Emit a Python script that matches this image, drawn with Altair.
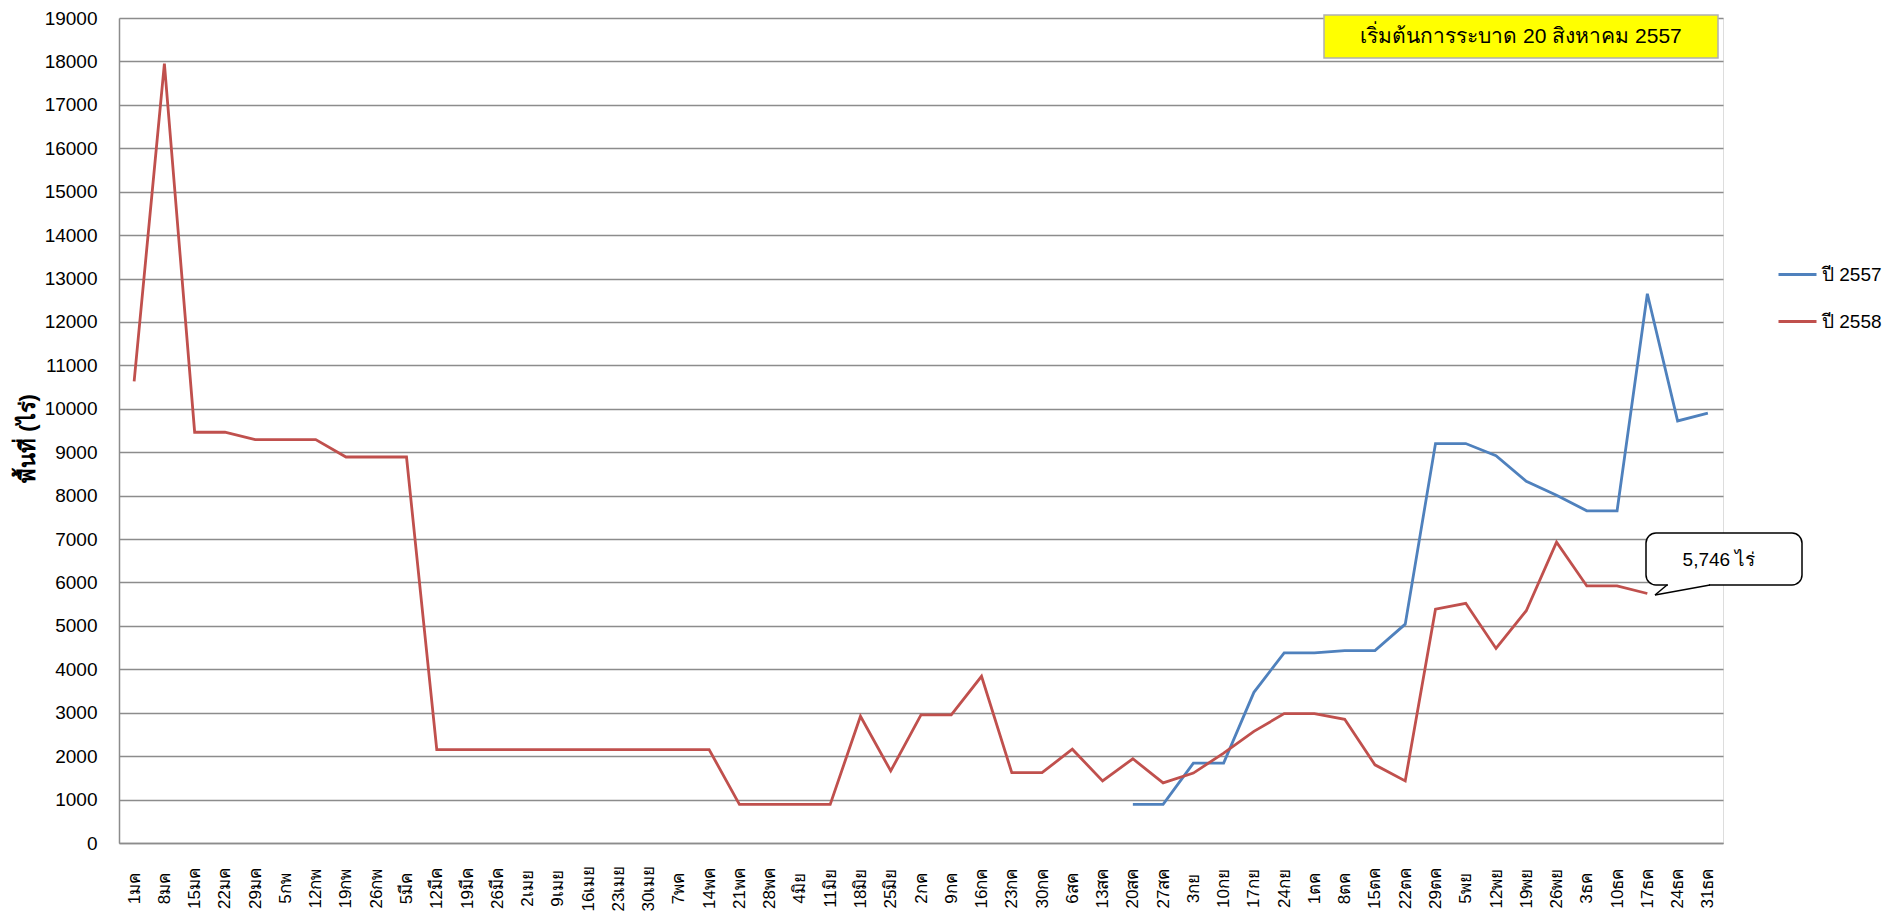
import altair as alt
import pandas as pd

categories = ["1มค", "8มค", "15มค", "22มค", "29มค", "5กพ", "12กพ", "19กพ", "26กพ", "5มีค",
              "12มีค", "19มีค", "26มีค", "2เมย", "9เมย", "16เมย", "23เมย", "30เมย", "7พค", "14พค",
              "21พค", "28พค", "4มิย", "11มิย", "18มิย", "25มิย", "2กค", "9กค", "16กค", "23กค",
              "30กค", "6สค", "13สค", "20สค", "27สค", "3กย", "10กย", "17กย", "24กย", "1ตค",
              "8ตค", "15ตค", "22ตค", "29ตค", "5พย", "12พย", "19พย", "26พย", "3ธค", "10ธค",
              "17ธค", "24ธค", "31ธค"]

series_names = ["ปี 2557", "ปี 2558"]

values_2557 = [None] * 33 + [890, 890, 1840, 1840, 3470, 4380, 4380, 4430, 4430, 5040,
                             9200, 9200, 8920, 8330, 8010, 7650, 7650, 12650, 9720, 9900]

values_2558 = [10630, 17950, 9460, 9460, 9290, 9290, 9290, 8890, 8890, 8890,
               2150, 2150, 2150, 2150, 2150, 2150, 2150, 2150, 2150, 2150,
               890, 890, 890, 890, 2920, 1660, 2950, 2950, 3840, 1620,
               1620, 2160, 1430, 1940, 1385, 1610, 2070, 2570, 2980, 2980,
               2850, 1800, 1430, 5385, 5520, 4480, 5350, 6930, 5920, 5920,
               5746, None, None]

y_ticks = list(range(0, 19001, 1000))

banner_text = "เริ่มต้นการระบาด 20 สิงหาคม 2557"
callout_text = "5,746 ไร่"
y_title = "พื้นที่ (ไร่)"

colors = ["#4F81BD", "#C0504D"]

rows = []
for name, vals in zip(series_names, [values_2557, values_2558]):
    for c, v in zip(categories, vals):
        if v is not None:
            rows.append({"week": c, "series": name, "area": v})
df = pd.DataFrame(rows)

FONT = "Liberation Sans Narrow, Liberation Sans, Tahoma, sans-serif"
W, H = 1604, 825

lines = alt.Chart(df).mark_line(strokeWidth=2.8, strokeJoin="miter").encode(
    x=alt.X("week:N", sort=categories,
            scale=alt.Scale(type="point", padding=0.5, domain=categories),
            axis=alt.Axis(title=None, grid=False, ticks=False, labelAngle=270,
                          labelAlign="center", labelBaseline="middle",
                          labelPadding=45, labelFontSize=17, labelFont=FONT,
                          labelColor="#000000", domainColor="#8c8c8c",
                          domainWidth=1.5, labelOverlap=False)),
    y=alt.Y("area:Q",
            scale=alt.Scale(domain=[0, 19000], nice=False),
            axis=alt.Axis(values=y_ticks, title=y_title, format="d",
                          ticks=False, labelPadding=22, labelFontSize=19,
                          labelFont=FONT, labelColor="#000000",
                          gridColor="#8c8c8c", gridWidth=1.5,
                          domainColor="#8c8c8c", domainWidth=1.5,
                          titleFont=FONT, titleFontSize=22, titleFontWeight="bold",
                          titleColor="#000000", titleX=-92, titleY=420,
                          titleAngle=270, titleAlign="center", titleBaseline="middle")),
    color=alt.Color("series:N",
                    scale=alt.Scale(domain=series_names, range=colors),
                    legend=alt.Legend(title=None, orient="none", legendX=1658, legendY=236,
                                      symbolType="stroke", symbolSize=1444,
                                      symbolStrokeWidth=3, labelFontSize=19,
                                      labelFont=FONT, labelColor="#000000",
                                      labelOffset=4, rowPadding=16)),
)

one = pd.DataFrame({"k": [0]})

banner_box = alt.Chart(one).mark_rect(fill="#FFFF00", stroke="#b0b0b0", strokeWidth=1.5).encode(
    x=alt.value(1205), x2=alt.value(1599), y=alt.value(-3), y2=alt.value(40))
banner_txt = alt.Chart(one).mark_text(fontSize=21, font=FONT, color="#000000",
                                      align="center", baseline="middle").encode(
    x=alt.value(1402), y=alt.value(19), text=alt.value(banner_text))

callout_box = alt.Chart(one).mark_rect(fill="#FFFFFF", stroke="#000000", strokeWidth=1.5,
                                       cornerRadius=10).encode(
    x=alt.value(1527), x2=alt.value(1683), y=alt.value(515), y2=alt.value(567))
tail_cover = alt.Chart(one).mark_rule(stroke="#FFFFFF", strokeWidth=3).encode(
    x=alt.value(1549), x2=alt.value(1590), y=alt.value(567), y2=alt.value(567))
tail_a = alt.Chart(one).mark_rule(stroke="#000000", strokeWidth=1.5).encode(
    x=alt.value(1548), x2=alt.value(1536), y=alt.value(567), y2=alt.value(577))
tail_b = alt.Chart(one).mark_rule(stroke="#000000", strokeWidth=1.5).encode(
    x=alt.value(1536), x2=alt.value(1591), y=alt.value(577), y2=alt.value(567))
callout_txt = alt.Chart(one).mark_text(fontSize=19, font="Liberation Sans, sans-serif",
                                       color="#000000", align="center",
                                       baseline="middle").encode(
    x=alt.value(1600), y=alt.value(542), text=alt.value(callout_text))

chart = alt.layer(lines, banner_box, banner_txt, callout_box, tail_cover, tail_a, tail_b,
                  callout_txt).properties(
    width=W, height=H,
    autosize=alt.AutoSizeParams(type="none"),
    padding={"left": 111, "top": 10, "right": 160, "bottom": 70},
).configure_view(stroke=None).configure(background="#FFFFFF")

chart.save("out.html", embed_options={"renderer": "svg", "actions": False})
